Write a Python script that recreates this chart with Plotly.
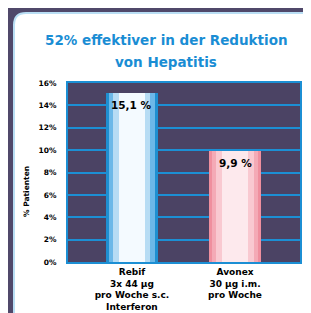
import plotly.graph_objects as go

categories = ["Rebif<br>3x 44 µg<br>pro Woche s.c.<br>Interferon", "Avonex<br>30 µg i.m.<br>pro Woche"]
values = [15.1, 9.9]
value_labels = ["15,1 %", "9,9 %"]
tick_vals = [0, 2, 4, 6, 8, 10, 12, 14, 16]
tick_text = ["0%", "2%", "4%", "6%", "8%", "10%", "12%", "14%", "16%"]
title_lines = ["52% effektiver in der Reduktion", "von Hepatitis"]
y_title = "% Patienten"

# page has an 8px body margin; compensate so the picture lands where intended
OFF = 8
W, H = 311 - OFF, 313 - OFF
L, T = 68 - OFF, 83 - OFF
pw, ph = 232, 179
R, B = W - L - pw, H - T - ph

def px(x):
    return (x - OFF - L) / pw

def py(y):
    return (T + ph - (y - OFF)) / ph

fig = go.Figure()

layers = [
    (0.50, ["#1f8fd0", "#ef8f9e"]),
    (0.44, ["#6cb8e8", "#f4aab6"]),
    (0.36, ["#b7dcf4", "#f9c9d1"]),
    (0.26, ["#f4faff", "#fde9ed"]),
]
for w, cols in layers:
    fig.add_trace(go.Bar(x=[0, 1], y=values, width=w, marker=dict(color=cols, line=dict(width=0)),
                         hoverinfo="skip", showlegend=False))

for i, (v, t) in enumerate(zip(values, value_labels)):
    fig.add_annotation(x=i, y=v, yshift=-12, text="<b>" + t + "</b>", showarrow=False,
                       xanchor="center", yanchor="middle",
                       font=dict(family="DejaVu Sans", size=10.5, color="black"))

# rounded white panel
x0, x1 = px(14), px(340)
y0, y1 = py(340), py(13)
rx, ry = 12 / pw, 12 / ph
path = (f"M {x0},{y0} L {x0},{y1 - ry} Q {x0},{y1} {x0 + rx},{y1} "
        f"L {x1},{y1} L {x1},{y0} Z")
fig.add_shape(type="path", path=path, xref="paper", yref="paper",
              fillcolor="white", line=dict(color="#b9def4", width=2), layer="below")
fig.add_shape(type="rect", xref="paper", yref="paper", x0=0, x1=1, y0=0, y1=1,
              fillcolor="#4b4364", line=dict(width=0), layer="below")

fig.add_annotation(text="<b>" + title_lines[0] + "</b>", xref="paper", yref="paper",
                   x=px(166), y=py(40), showarrow=False, yanchor="middle",
                   font=dict(family="DejaVu Sans", size=13.5, color="#1a8dd4"))
fig.add_annotation(text="<b>" + title_lines[1] + "</b>", xref="paper", yref="paper",
                   x=px(166), y=py(62), showarrow=False, yanchor="middle",
                   font=dict(family="DejaVu Sans", size=13.5, color="#1a8dd4"))

fig.add_annotation(text="<b>" + y_title + "</b>", xref="paper", yref="paper",
                   x=px(26), y=py(192), showarrow=False, textangle=-90,
                   xanchor="center", yanchor="middle",
                   font=dict(family="DejaVu Sans", size=7.5, color="black"))

fig.update_layout(
    width=W, height=H, margin=dict(l=L, r=R, t=T, b=B, autoexpand=False),
    paper_bgcolor="#50486a", plot_bgcolor="#4b4364",
    barmode="overlay", bargap=0,
    xaxis=dict(range=[-0.62, 1.63], tickmode="array", tickvals=[0, 1], ticktext=["<b>" + c + "</b>" for c in categories],
               tickfont=dict(family="DejaVu Sans", size=9, color="black"), showgrid=False, zeroline=False,
               showline=True, linecolor="#1c8fd4", linewidth=2, mirror=True, ticks="", automargin=False),
    yaxis=dict(range=[0, 16], tickmode="array", tickvals=tick_vals, ticktext=["<b>" + t + "</b>" for t in tick_text],
               tickfont=dict(family="DejaVu Sans", size=7.5, color="black"), showgrid=True,
               gridcolor="#1c8fd4", gridwidth=2, zeroline=False, showline=True, linecolor="#1c8fd4",
               linewidth=2, mirror=True, ticks="", ticklabelstandoff=8, automargin=False),
)

fig.write_html("out.html")
